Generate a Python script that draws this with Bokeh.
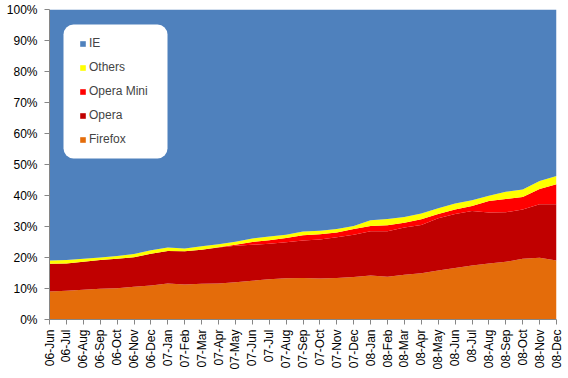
from bokeh.plotting import figure
from bokeh.models import (ColumnDataSource, FixedTicker, PrintfTickFormatter, Legend,
                          LegendItem, Range1d, BoxAnnotation)
from bokeh.embed import file_html
from bokeh.resources import INLINE
import math

months = ["06-Jun", "06-Jul", "06-Aug", "06-Sep", "06-Oct", "06-Nov", "06-Dec",
          "07-Jan", "07-Feb", "07-Mar", "07-Apr", "07-May", "07-Jun", "07-Jul",
          "07-Aug", "07-Sep", "07-Oct", "07-Nov", "07-Dec",
          "08-Jan", "08-Feb", "08-Mar", "08-Apr", "08-May", "08-Jun", "08-Jul",
          "08-Aug", "08-Sep", "08-Oct", "08-Nov", "08-Dec"]

firefox = [9.0, 9.3, 9.6, 9.9, 10.1, 10.6, 11.0, 11.6, 11.3, 11.5, 11.6, 12.0, 12.5, 13.0,
           13.3, 13.4, 13.2, 13.4, 13.7, 14.2, 13.8, 14.4, 14.9, 15.8, 16.6, 17.4,
           18.1, 18.6, 19.6, 19.9, 19.0]
opera = [9.0, 8.8, 9.0, 9.3, 9.5, 9.5, 10.2, 10.5, 10.7, 11.0, 11.6, 11.8, 11.6, 11.4,
         11.6, 12.1, 12.6, 13.1, 13.6, 14.3, 14.7, 15.3, 15.6, 16.9, 17.4, 17.6,
         16.4, 16.0, 15.9, 17.3, 18.2]
opera_mini = [0, 0, 0, 0, 0, 0, 0, 0, 0, 0, 0.1, 0.3, 0.9, 1.2,
              1.4, 1.7, 1.7, 1.6, 1.9, 1.7, 1.9, 1.5, 1.8, 1.3, 1.5, 1.6,
              3.7, 4.3, 4.0, 4.9, 6.4]
others = [1.0, 1.1, 1.0, 0.8, 0.9, 1.0, 1.1, 1.1, 0.9, 1.1, 1.0, 1.0, 1.1, 1.2,
          1.0, 1.2, 1.1, 1.1, 1.0, 1.8, 2.0, 1.9, 1.9, 1.9, 1.9, 1.9,
          1.7, 2.3, 2.4, 2.6, 2.7]
ie = [round(100 - a - b - c - d, 2) for a, b, c, d in zip(firefox, opera, opera_mini, others)]

series = ["Firefox", "Opera", "Opera Mini", "Others", "IE"]
colors = ["#E46C0A", "#C00000", "#FF0000", "#FFFF00", "#4F81BD"]
y_ticks = list(range(0, 101, 10))

x = list(range(len(months)))
source = ColumnDataSource(dict(x=x, Firefox=firefox, Opera=opera, **{"Opera Mini": opera_mini},
                               Others=others, IE=ie))

# layout (pixels)
W, H = 568, 378
BL, BR, BT, BB = 49, 12, 9, 59
FW, FH = W - BL - BR, H - BT - BB
XMAX = len(months) - 1

p = figure(width=W, height=H, output_backend="svg", toolbar_location=None,
           x_range=Range1d(0, XMAX), y_range=Range1d(0, 100),
           min_border_left=BL, min_border_right=BR, min_border_top=BT, min_border_bottom=BB)

rends = p.varea_stack(stackers=series, x="x", color=colors, source=source)

p.xgrid.visible = False
p.ygrid.visible = False
p.outline_line_color = None
p.background_fill_color = "white"

p.yaxis.ticker = FixedTicker(ticks=y_ticks)
p.yaxis.formatter = PrintfTickFormatter(format="%d%%")
p.xaxis.ticker = FixedTicker(ticks=x)
p.xaxis.major_label_overrides = {i: m for i, m in enumerate(months)}
p.xaxis.major_label_orientation = math.pi / 2

for ax in (p.xaxis, p.yaxis):
    ax.axis_line_color = "#868686"
    ax.major_tick_line_color = "#868686"
    ax.major_tick_out = 5
    ax.major_tick_in = 0
    ax.minor_tick_line_color = None
    ax.major_label_text_font = "Liberation Sans"
    ax.major_label_text_font_size = "12px"
    ax.major_label_text_color = "black"
p.yaxis.major_label_standoff = 7
p.xaxis.major_label_standoff = 5

# white rounded legend panel (pixel box 63..167 x 24..158 on the canvas)
def px_to_x(px):
    return (px - BL) / FW * XMAX

def py_to_y(py):
    return (BT + FH - py) / FH * 100

panel = BoxAnnotation(left=px_to_x(63), right=px_to_x(167), top=py_to_y(24), bottom=py_to_y(158),
                      fill_color="white", fill_alpha=1.0, line_color=None)
try:
    panel.border_radius = 10
except Exception:
    pass
p.add_layout(panel)

items = [LegendItem(label=series[i], renderers=[rends[i]]) for i in [4, 3, 2, 1, 0]]
legend = Legend(items=items, location=(79 - BL, BT + FH - 150), padding=0, spacing=2,
                label_height=22, glyph_height=7, glyph_width=7, label_standoff=3,
                margin=0,
                label_text_font="Liberation Sans", label_text_font_size="12px",
                background_fill_alpha=0.0, border_line_color=None)
p.add_layout(legend, "center")

open("out.html", "w").write(file_html(p, INLINE))
